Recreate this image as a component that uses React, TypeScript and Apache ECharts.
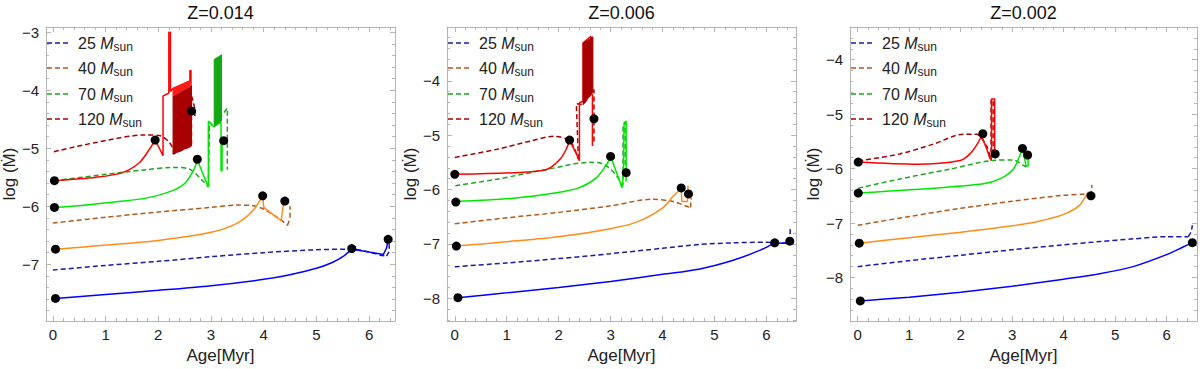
import React, { useEffect, useRef } from 'react';
import * as echarts from 'echarts';

// ---------- labels / ticks ----------
const PANEL_TITLES = ['Z=0.014', 'Z=0.006', 'Z=0.002'];
const MASS_LABELS = ['25', '40', '70', '120'];
const X_NAME = 'Age[Myr]';
const Y_NAME = 'log (\u1E40)';
const X_TICKS = [0, 1, 2, 3, 4, 5, 6];
const X_MINOR = [0.2, 0.4, 0.6, 0.8, 1.2, 1.4, 1.6, 1.8, 2.2, 2.4, 2.6, 2.8, 3.2, 3.4, 3.6, 3.8, 4.2, 4.4, 4.6, 4.8, 5.2, 5.4, 5.6, 5.8, 6.2, 6.4];
const Y_TICKS_1 = [-7, -6, -5, -4, -3];
const Y_TICKS_2 = [-8, -7, -6, -5, -4];
const Y_TICKS_3 = [-8, -7, -6, -5, -4];
const Y_MINOR = [-8.8, -8.6, -8.4, -8.2, -7.8, -7.6, -7.4, -7.2, -6.8, -6.6, -6.4, -6.2, -5.8, -5.6, -5.4, -5.2, -4.8, -4.6, -4.4, -4.2, -3.8, -3.6, -3.4, -3.2];

// ---------- Z = 0.014 ----------
const P1_M25_SOLID = [[0.05, -7.59], [1, -7.52], [2, -7.45], [3, -7.37], [4, -7.26], [4.5, -7.18], [5, -7.07], [5.3, -6.97], [5.5, -6.87], [5.67, -6.74], [6.0, -6.79], [6.27, -6.83], [6.33, -6.72], [6.36, -6.57]];
const P1_M25_DASH = [[0, -7.10], [1, -7.02], [2, -6.95], [3, -6.87], [4, -6.80], [5, -6.75], [5.67, -6.74], [6.0, -6.79], [6.2, -6.84], [6.33, -6.86], [6.38, -6.78], [6.38, -6.64]];
const P1_M40_SOLID = [[0.05, -6.74], [1, -6.67], [2, -6.59], [3, -6.45], [3.5, -6.29], [3.8, -6.07], [3.98, -5.82], [4.0, -6.02], [4.33, -6.25], [4.38, -5.91]];
const P1_M40_DASH = [[0, -6.29], [1, -6.19], [2, -6.10], [3, -6.02], [3.5, -5.98], [3.8, -5.99], [4.0, -6.05], [4.3, -6.22], [4.45, -6.33], [4.5, -6.2], [4.5, -6.0]];
const P1_M70_SOLID = [[0.02, -6.02], [0.5, -5.99], [1.13, -5.93], [1.76, -5.86], [2.27, -5.73], [2.52, -5.59], [2.68, -5.36], [2.74, -5.2], [2.85, -5.45], [2.95, -5.67], [2.95, -4.53], [3.05, -4.63], [3.19, -4.55], [3.19, -5.39], [3.21, -5.39], [3.21, -4.87]];
const P1_M70_DASH = [[0.02, -5.56], [1, -5.45], [1.77, -5.37], [2.27, -5.33], [2.59, -5.36], [2.84, -5.56], [2.95, -5.67], [2.97, -4.55], [3.05, -4.62], [3.31, -4.31], [3.31, -5.37]];
const P1_M120_SOLID = [[0.02, -5.56], [0.82, -5.5], [1.32, -5.42], [1.64, -5.25], [1.83, -5.02], [1.94, -4.86], [2.02, -5.0], [2.09, -5.13], [2.09, -4.1], [2.2, -4.05], [2.2, -3.0], [2.23, -3.0], [2.23, -4.02], [2.28, -3.97], [2.6, -3.84], [2.6, -3.66], [2.62, -3.66], [2.62, -4.05]];
const P1_M120_DASH = [[0.02, -5.06], [0.82, -4.9], [1.77, -4.77], [2.02, -4.78], [2.21, -4.9], [2.31, -5.07], [2.28, -5.1], [2.63, -4.96], [2.63, -4.1], [2.66, -4.18], [2.7, -4.35], [2.69, -4.48]];
const P1_BAND_DARK_RED = [[2.28, -5.10, -4.10], [2.63, -4.96, -3.93]];
const P1_BAND_RED = [[2.28, -4.10, -3.97], [2.6, -3.93, -3.84]];
const P1_BAND_GREEN = [[3.06, -4.62, -3.47], [3.2, -4.53, -3.39]];
const P1_DOTS = [[0.05, -7.59], [5.67, -6.73], [6.36, -6.57], [0.05, -6.74], [3.98, -5.82], [4.40, -5.91], [0.03, -6.02], [2.74, -5.19], [3.24, -4.87], [0.03, -5.56], [1.94, -4.86], [2.63, -4.36]];

// ---------- Z = 0.006 ----------
const P2_M25_SOLID = [[0.06, -7.99], [1, -7.9], [2, -7.8], [3, -7.69], [4, -7.56], [4.72, -7.46], [5.36, -7.3], [5.87, -7.12], [6.16, -6.98], [6.3, -6.99], [6.43, -6.98], [6.45, -6.95]];
const P2_M25_DASH = [[0, -7.42], [1, -7.35], [2, -7.27], [3, -7.18], [4, -7.08], [4.72, -7.01], [5.36, -6.98], [6.0, -6.97], [6.3, -6.99], [6.45, -6.97], [6.46, -6.72]];
const P2_M40_SOLID = [[0.03, -7.04], [1, -6.96], [2, -6.87], [3, -6.72], [3.5, -6.6], [4, -6.34], [4.2, -6.13], [4.36, -5.97], [4.37, -6.22], [4.48, -6.22], [4.49, -5.93]];
const P2_M40_DASH = [[0, -6.63], [1, -6.52], [2, -6.42], [3, -6.3], [3.8, -6.18], [4.2, -6.22], [4.5, -6.32], [4.54, -6.33], [4.55, -6.15]];
const P2_M70_SOLID = [[0.03, -6.22], [1.13, -6.16], [1.96, -6.06], [2.41, -5.96], [2.73, -5.78], [2.93, -5.53], [3.0, -5.39], [3.1, -5.65], [3.22, -5.96], [3.25, -5.6], [3.26, -4.78], [3.3, -4.74], [3.3, -5.85]];
const P2_M70_DASH = [[0.01, -5.93], [0.81, -5.81], [1.77, -5.63], [2.6, -5.5], [2.86, -5.53], [3.12, -5.75], [3.22, -5.96], [3.24, -5.9], [3.24, -4.8], [3.28, -4.76], [3.28, -5.7]];
const P2_M120_SOLID = [[0, -5.72], [1.13, -5.69], [1.77, -5.63], [2.03, -5.44], [2.16, -5.23], [2.21, -5.09], [2.36, -5.38], [2.4, -5.47], [2.4, -4.4], [2.47, -4.38], [2.47, -3.3], [2.62, -3.18], [2.62, -4.25], [2.65, -4.25], [2.65, -5.2]];
const P2_M120_DASH = [[0, -5.41], [0.81, -5.26], [1.45, -5.11], [1.9, -5.02], [2.22, -5.11], [2.38, -5.44], [2.34, -4.42], [2.47, -4.44], [2.66, -4.2], [2.68, -4.16], [2.68, -5.17]];
const P2_BAND_DARK_RED = [[2.47, -4.44, -3.31], [2.66, -4.20, -3.19]];
const P2_DOTS = [[0.06, -7.99], [6.16, -6.98], [6.45, -6.95], [0.03, -7.04], [4.36, -5.97], [4.5, -6.08], [0.02, -6.23], [3.0, -5.39], [3.3, -5.69], [0, -5.72], [2.21, -5.09], [2.68, -4.70]];

// ---------- Z = 0.002 ----------
const P3_M25_SOLID = [[0.05, -8.43], [1, -8.36], [2, -8.27], [3, -8.16], [4, -8.03], [4.7, -7.93], [5.35, -7.8], [6.0, -7.58], [6.32, -7.44], [6.5, -7.36]];
const P3_M25_DASH = [[0, -7.8], [1, -7.69], [2, -7.59], [3, -7.49], [4, -7.4], [4.7, -7.34], [5.35, -7.29], [6.0, -7.25], [6.42, -7.25], [6.48, -7.16], [6.5, -7.04]];
const P3_M40_SOLID = [[0.03, -7.37], [1, -7.27], [2, -7.17], [3, -7.05], [3.5, -6.97], [4, -6.84], [4.3, -6.68], [4.48, -6.42]];
const P3_M40_DASH = [[0, -7.04], [1, -6.88], [2, -6.73], [3, -6.6], [4, -6.49], [4.4, -6.47], [4.53, -6.5], [4.55, -6.3]];
const P3_M70_SOLID = [[0.01, -6.45], [0.5, -6.42], [1.47, -6.36], [2.44, -6.28], [2.76, -6.19], [3.02, -6.01], [3.15, -5.76], [3.2, -5.63], [3.27, -5.95], [3.31, -5.95], [3.31, -5.75]];
const P3_M70_DASH = [[0.01, -6.36], [0.82, -6.19], [1.79, -6.01], [2.63, -5.85], [3.02, -5.84], [3.2, -5.93], [3.3, -5.98]];
const P3_M120_SOLID = [[0.01, -5.88], [1.15, -5.92], [1.99, -5.85], [2.18, -5.73], [2.34, -5.52], [2.4, -5.4], [2.5, -5.62], [2.57, -5.82], [2.6, -5.8], [2.6, -4.72], [2.66, -4.72], [2.66, -5.72]];
const P3_M120_DASH = [[0.01, -5.86], [0.82, -5.73], [1.47, -5.55], [2.05, -5.37], [2.31, -5.37], [2.5, -5.58], [2.59, -5.85], [2.59, -4.75], [2.63, -4.73], [2.63, -5.7]];
const P3_DOTS = [[0.05, -8.43], [6.5, -7.36], [0.03, -7.37], [4.53, -6.5], [0.01, -6.45], [3.2, -5.63], [3.3, -5.75], [0.01, -5.88], [2.43, -5.36], [2.67, -5.73]];

// ---------- styling ----------
const FONT = 'Liberation Sans, Arial, DejaVu Sans, sans-serif';
const FRAME = '#b4b4b4';
const TEXT = '#222';
const SOLID_COLORS = ['#0000ff', '#ff8c1a', '#00e600', '#ff0000'];
const DASH_COLORS = ['#1a1aa8', '#b35a1a', '#1aa81a', '#a80000'];

// index up to which each track is drawn as a smooth curve (rest: straight segments)
const SMOOTH_END = [
  { solid: [9, 6, 7, 5], dash: [9, 8, 6, 5] },
  { solid: [8, 7, 6, 5], dash: [8, 7, 6, 5] },
  { solid: [9, 7, 7, 5], dash: [8, 6, 6, 6] },
];

const PANELS = [
  {
    title: PANEL_TITLES[0], grid: { left: 46, top: 27, width: 349, height: 296 },
    x: [-0.13, 6.49], y: [-7.98, -2.91], yTicks: Y_TICKS_1,
    solid: [P1_M25_SOLID, P1_M40_SOLID, P1_M70_SOLID, P1_M120_SOLID],
    dash: [P1_M25_DASH, P1_M40_DASH, P1_M70_DASH, P1_M120_DASH],
    dots: P1_DOTS,
    bands: [{ data: P1_BAND_DARK_RED, color: '#a80000' }, { data: P1_BAND_RED, color: '#ff1a1a' }, { data: P1_BAND_GREEN, color: '#14a814' }],
  },
  {
    title: PANEL_TITLES[1], grid: { left: 447, top: 27, width: 349, height: 296 },
    x: [-0.15, 6.57], y: [-8.42, -3.01], yTicks: Y_TICKS_2,
    solid: [P2_M25_SOLID, P2_M40_SOLID, P2_M70_SOLID, P2_M120_SOLID],
    dash: [P2_M25_DASH, P2_M40_DASH, P2_M70_DASH, P2_M120_DASH],
    dots: P2_DOTS,
    bands: [{ data: P2_BAND_DARK_RED, color: '#a80000' }],
  },
  {
    title: PANEL_TITLES[2], grid: { left: 850, top: 27, width: 347, height: 296 },
    x: [-0.15, 6.59], y: [-8.8, -3.4], yTicks: Y_TICKS_3,
    solid: [P3_M25_SOLID, P3_M40_SOLID, P3_M70_SOLID, P3_M120_SOLID],
    dash: [P3_M25_DASH, P3_M40_DASH, P3_M70_DASH, P3_M120_DASH],
    dots: P3_DOTS,
    bands: [],
  },
];

const fmt = (v: number) => String(v).replace('-', '\u2212');

function buildOption() {
  const xAxis: any[] = [];
  const yAxis: any[] = [];
  const series: any[] = [];
  const graphic: any[] = [];
  const LEGEND_Y = [43, 68, 94, 119];

  PANELS.forEach((P, p) => {
    const xb = { type: 'value', gridIndex: p, min: P.x[0], max: P.x[1], splitLine: { show: false } };
    const yb = { type: 'value', gridIndex: p, min: P.y[0], max: P.y[1], splitLine: { show: false } };
    const line = (show: boolean) => ({ show, onZero: false, lineStyle: { color: FRAME, width: 1 } });
    const tick = (vals: number[], length: number) => ({ show: true, inside: true, length, customValues: vals, lineStyle: { color: FRAME, width: 1 } });
    const yMinor = Y_MINOR.filter((v) => v > P.y[0] && v < P.y[1]);

    xAxis.push({
      ...xb, position: 'bottom', axisLine: line(true), axisTick: tick(X_TICKS, 5),
      axisLabel: { show: true, customValues: X_TICKS, color: TEXT, fontSize: 15, fontFamily: FONT, margin: 6, formatter: fmt },
      name: X_NAME, nameLocation: 'middle', nameGap: 25,
      nameTextStyle: { color: TEXT, fontSize: 17, fontFamily: FONT },
    });
    xAxis.push({ ...xb, position: 'top', axisLine: line(true), axisTick: tick(X_TICKS, 5), axisLabel: { show: false } });
    xAxis.push({ ...xb, position: 'bottom', axisLine: line(false), axisTick: tick(X_MINOR, 3), axisLabel: { show: false } });
    xAxis.push({ ...xb, position: 'top', axisLine: line(false), axisTick: tick(X_MINOR, 3), axisLabel: { show: false } });

    yAxis.push({
      ...yb, position: 'left', axisLine: line(true), axisTick: tick(P.yTicks, 5),
      axisLabel: { show: true, customValues: P.yTicks, color: TEXT, fontSize: 15, fontFamily: FONT, margin: 7, formatter: fmt },
      name: Y_NAME, nameLocation: 'middle', nameGap: 26,
      nameTextStyle: { color: TEXT, fontSize: 17, fontFamily: FONT },
    });
    yAxis.push({ ...yb, position: 'right', axisLine: line(true), axisTick: tick(P.yTicks, 5), axisLabel: { show: false } });
    yAxis.push({ ...yb, position: 'left', axisLine: line(false), axisTick: tick(yMinor, 3), axisLabel: { show: false } });
    yAxis.push({ ...yb, position: 'right', axisLine: line(false), axisTick: tick(yMinor, 3), axisLabel: { show: false } });

    const xi = p * 4;
    const yi = p * 4;

    const addTrack = (d: number[][], k: number, color: string, dashed: boolean, name: string, z: number) => {
      const ls: any = { color, width: 1.5 };
      if (dashed) ls.type = [5, 3];
      series.push({
        type: 'line', name: name + ' curve', xAxisIndex: xi, yAxisIndex: yi, data: d.slice(0, k + 1),
        showSymbol: false, symbol: 'none', z, smooth: 0.3, lineStyle: ls,
      });
      if (k < d.length - 1) {
        series.push({
          type: 'line', name: name + ' tail', xAxisIndex: xi, yAxisIndex: yi, data: d.slice(k),
          showSymbol: false, symbol: 'none', z, lineStyle: ls,
        });
      }
    };

    P.dash.forEach((d, m) => addTrack(d, SMOOTH_END[p].dash[m], DASH_COLORS[m], true, `${MASS_LABELS[m]} Msun dashed Z${p}`, 2));
    P.solid.forEach((d, m) => addTrack(d, SMOOTH_END[p].solid[m], SOLID_COLORS[m], false, `${MASS_LABELS[m]} Msun solid Z${p}`, 3));

    P.bands.forEach((b) => {
      const band = b.data;
      series.push({
        type: 'custom', xAxisIndex: xi, yAxisIndex: yi, data: band, z: 4,
        encode: { x: 0, y: [1, 2] },
        renderItem: (params: any, api: any) => {
          const i = params.dataIndex;
          if (i >= band.length - 1) return { type: 'group', children: [] };
          const a = band[i];
          const c = band[i + 1];
          const pts = [api.coord([a[0], a[1]]), api.coord([c[0], c[1]]), api.coord([c[0], c[2]]), api.coord([a[0], a[2]])];
          return { type: 'polygon', shape: { points: pts }, style: { fill: b.color, stroke: b.color, lineWidth: 1 } };
        },
      });
    });
    series.push({
      type: 'scatter', xAxisIndex: xi, yAxisIndex: yi, data: P.dots, symbol: 'circle', symbolSize: 9, z: 6,
      itemStyle: { color: '#000', opacity: 1 },
    });

    const g = P.grid;
    graphic.push({
      type: 'text', x: g.left + g.width / 2, y: 13, z: 10,
      style: { text: P.title, fill: '#111', font: `18px ${FONT}`, align: 'center', verticalAlign: 'middle' },
    });
    MASS_LABELS.forEach((ml, m) => {
      graphic.push({
        type: 'line', z: 10,
        shape: { x1: g.left + 1, y1: LEGEND_Y[m], x2: g.left + 24, y2: LEGEND_Y[m] },
        style: { stroke: DASH_COLORS[m], lineWidth: 1.5, lineDash: [5, 3] },
      });
      graphic.push({
        type: 'text', z: 10, x: g.left + 32, y: LEGEND_Y[m],
        style: {
          text: `${ml} {i|M}{s|sun}`, fill: TEXT, fontSize: 16, fontFamily: FONT, verticalAlign: 'middle',
          rich: {
            i: { fontStyle: 'italic', fontSize: 16, fontFamily: FONT, fill: TEXT },
            s: { fontSize: 12, fontFamily: FONT, fill: TEXT, padding: [7, 0, 0, 0] },
          },
        },
      });
    });
  });

  return {
    animation: false,
    backgroundColor: '#fff',
    grid: PANELS.map((P) => ({ ...P.grid, containLabel: false })),
    xAxis, yAxis, series, graphic,
  };
}

export default function App() {
  const ref = useRef<HTMLDivElement>(null);
  useEffect(() => {
    if (!ref.current) return;
    const chart = echarts.init(ref.current, undefined, { renderer: 'svg' });
    chart.setOption(buildOption() as any);
    return () => chart.dispose();
  }, []);
  return <div ref={ref} style={{ position: 'absolute', left: 0, top: 0, width: 1200, height: 369 }} />;
}
